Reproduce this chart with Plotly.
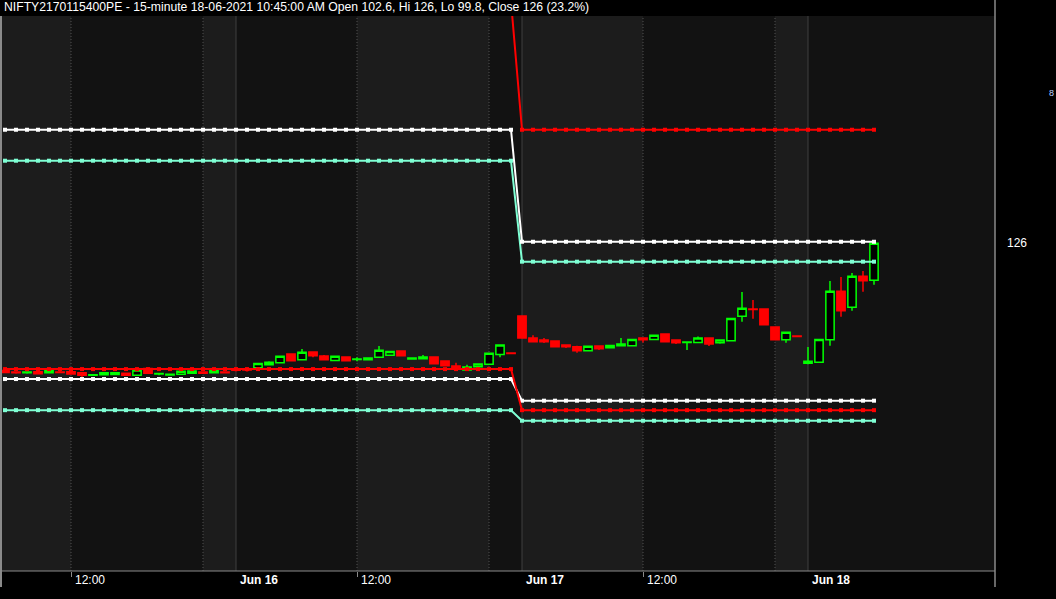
import plotly.graph_objects as go
import pandas as pd

# ---------------- data ----------------
sessions = [("2021-06-15", "10:30", "15:30"),
            ("2021-06-16", "09:15", "15:30"),
            ("2021-06-17", "09:15", "15:30"),
            ("2021-06-18", "09:15", "10:45")]
day_labels = ["Jun 15", "Jun 16", "Jun 17", "Jun 18"]

opens = [45.5, 44.5, 44.1, 44.7, 44.1, 44.6, 44.7, 44.1, 42.5, 42.9, 43.0, 43.7, 42.5, 46.8, 43.3, 42.7, 43.1, 43.7, 44.6, 44.1, 44.6,
         46.0, 46.6, 47.3, 49.2, 50.4, 56.0, 52.3, 57.2, 54.7, 51.9, 54.0, 52.5, 52.3, 53.9, 55.1, 57.8, 52.8, 53.0, 54.0, 51.5, 48.3, 45.8, 47.9, 49.4, 55.7, 56.6,
         80.0, 66.1, 64.8, 64.2, 61.6, 60.6, 58.0, 61.0, 59.9, 61.2, 61.2, 66.1, 65.2, 68.6, 64.8, 63.3, 63.3, 66.1, 63.1, 64.4, 79.8, 84.5, 84.4, 73.0, 65.0, 67.4,
         50.1, 50.7, 65.0, 95.6, 85.5, 105.1, 102.6]
highs = [46.0, 45.0, 45.0, 45.0, 45.8, 45.5, 44.9, 44.3, 43.0, 44.3, 44.2, 43.9, 45.8, 47.0, 43.8, 43.2, 45.0, 45.2, 44.7, 46.5, 44.8,
         46.8, 46.8, 50.0, 51.3, 54.5, 56.0, 59.1, 57.3, 55.3, 54.5, 54.0, 53.9, 53.4, 61.0, 57.6, 57.8, 53.9, 55.3, 54.0, 51.5, 50.4, 49.2, 49.6, 56.4, 61.6, 56.6,
         80.0, 67.9, 66.1, 64.2, 61.6, 61.2, 60.8, 61.0, 61.4, 66.1, 65.2, 66.1, 67.8, 68.6, 64.8, 63.5, 67.0, 66.1, 64.8, 78.5, 95.2, 90.1, 84.4, 73.0, 69.7, 67.4,
         60.4, 65.2, 102.1, 104.7, 107.2, 108.5, 126.0]
lows = [43.8, 43.5, 43.4, 43.2, 44.0, 44.0, 43.1, 41.0, 42.3, 42.8, 42.9, 42.4, 42.4, 43.6, 42.5, 42.6, 43.0, 43.6, 43.5, 44.0, 44.0,
        45.0, 44.8, 47.0, 48.6, 50.3, 51.7, 52.2, 53.9, 52.3, 51.8, 51.7, 51.3, 52.3, 53.9, 55.1, 54.9, 52.3, 53.0, 49.8, 48.5, 46.4, 45.8, 46.6, 49.4, 53.9, 56.2,
        66.1, 63.7, 62.9, 60.6, 59.8, 56.8, 58.0, 58.5, 59.9, 61.2, 61.2, 63.3, 65.2, 63.7, 62.3, 58.5, 63.3, 61.0, 62.5, 64.4, 76.4, 78.3, 74.5, 65.0, 63.1, 67.1,
        49.4, 50.7, 61.2, 79.5, 83.3, 95.4, 99.8]
closes = [44.2, 44.1, 44.6, 43.4, 45.4, 44.2, 43.3, 42.5, 42.9, 44.1, 44.1, 42.5, 45.8, 43.7, 43.6, 43.1, 45.0, 45.2, 43.7, 45.4, 44.1,
          45.6, 45.8, 50.0, 50.7, 54.5, 51.7, 57.0, 54.9, 52.3, 54.5, 51.7, 52.8, 53.4, 58.3, 57.6, 54.9, 53.4, 54.0, 49.8, 48.5, 46.4, 47.7, 49.6, 56.4, 61.6, 56.2,
          66.1, 63.7, 63.7, 60.6, 60.6, 58.0, 60.8, 59.3, 61.4, 62.3, 65.2, 65.0, 67.8, 63.7, 63.1, 63.5, 66.1, 62.3, 64.8, 78.5, 84.9, 84.2, 74.5, 65.0, 69.7, 67.1,
          51.3, 65.2, 95.6, 83.3, 105.1, 102.3, 126.0]

# daily levels (one value per session day)
red_hi = [279.0, 279.0, 197.9, 197.9]
white_hi = [197.9, 197.9, 127.0, 127.0]
cyan_hi = [178.3, 178.3, 114.4, 114.4]
red_lo = [46.4, 46.4, 20.4, 20.4]
white_lo = [40.1, 40.1, 26.4, 26.4]
cyan_lo = [20.4, 20.4, 13.7, 13.7]

title_text = ("NIFTY2170115400PE - 15-minute 18-06-2021 10:45:00 AM Open 102.6, "
              "Hi 126, Lo 99.8, Close 126 (23.2%)")
last_label = "126"

# ---------------- build ----------------
times, day_of_bar = [], []
for k, (d, s, e) in enumerate(sessions):
    rng = pd.date_range(f"{d} {s}", f"{d} {e}", freq="15min")
    times += list(rng)
    day_of_bar += [k] * len(rng)
idx = list(range(len(times)))

def per_bar(levels):
    return [levels[k] for k in day_of_bar]

BG_DARK = "#121212"
BG_LIGHT = "#1c1c1c"
FONT = "Liberation Sans, Arial"

fig = go.Figure()

fig.add_trace(go.Candlestick(
    x=idx, open=opens, high=highs, low=lows, close=closes,
    increasing=dict(line=dict(color="#00ff00", width=1.5), fillcolor="#000000"),
    decreasing=dict(line=dict(color="#ff0000", width=1.5), fillcolor="#ff0000"),
    whiskerwidth=0, showlegend=False, hoverinfo="skip"))

for vals, col in [(cyan_hi, "#7fffd4"), (white_hi, "#ffffff"), (red_hi, "#ff0000"),
                  (cyan_lo, "#7fffd4"), (white_lo, "#ffffff"), (red_lo, "#ff0000")]:
    fig.add_trace(go.Scatter(
        x=idx, y=per_bar(vals), mode="lines+markers",
        line=dict(color=col, width=2),
        marker=dict(symbol="square", size=4, color=col, line=dict(width=0)),
        showlegend=False, hoverinfo="skip"))

# grid boundaries
noon_idx, three_idx, day_idx = [], [], []
for i, t in enumerate(times):
    if t.strftime("%H:%M") == "12:00":
        noon_idx.append(i)
    if t.strftime("%H:%M") == "15:00":
        three_idx.append(i)
    if i > 0 and day_of_bar[i] != day_of_bar[i - 1]:
        day_idx.append(i)

X0 = -4 / 11.0
X1 = 90.0
bounds = sorted(noon_idx + three_idx + day_idx)
edges = [X0] + bounds + [X1]
shapes = []
for j in range(len(edges) - 1):
    if j % 2 == 0:
        shapes.append(dict(type="rect", xref="x", yref="paper", x0=edges[j], x1=edges[j + 1],
                           y0=0, y1=1, fillcolor=BG_LIGHT, line=dict(width=0), layer="below"))
for i in noon_idx + three_idx:
    shapes.append(dict(type="line", xref="x", yref="paper", x0=i, x1=i, y0=0, y1=1,
                       line=dict(color="#505050", width=1, dash="1px,2px"), layer="below"))
for i in day_idx:
    shapes.append(dict(type="line", xref="x", yref="paper", x0=i, x1=i, y0=0, y1=1,
                       line=dict(color="#3e3e3e", width=1), layer="below"))

# frame
FRAME = "#8a8a8a"
H = 599 - 16 - 28
shapes.append(dict(type="line", xref="paper", yref="paper", x0=0, x1=1, y0=0, y1=0,
                   line=dict(color=FRAME, width=1)))
shapes.append(dict(type="line", xref="paper", yref="paper", x0=1, x1=1, y0=-16 / H, y1=1 + 16 / H,
                   line=dict(color=FRAME, width=1.5)))
shapes.append(dict(type="line", xref="paper", yref="paper", x0=0, x1=0, y0=-16 / H, y1=1,
                   line=dict(color=FRAME, width=2)))

annotations = []
for i in noon_idx:
    annotations.append(dict(x=i, y=0, xref="x", yref="paper", text="12:00", showarrow=False,
                            xanchor="left", yanchor="top", xshift=2, yshift=0,
                            font=dict(color="#ffffff", size=12, family=FONT)))
for i in day_idx:
    annotations.append(dict(x=i, y=0, xref="x", yref="paper", text="<b>" + day_labels[day_of_bar[i]] + "</b>",
                            showarrow=False, xanchor="left", yanchor="top", xshift=2, yshift=0,
                            font=dict(color="#ffffff", size=12, family=FONT)))
annotations.append(dict(x=0, y=1, xref="paper", yref="paper", text=title_text, showarrow=False,
                        xanchor="left", yanchor="bottom", xshift=1, yshift=0,
                        font=dict(color="#ffffff", size=12.2, family=FONT)))
annotations.append(dict(x=1, y=closes[-1], xref="paper", yref="y", text=last_label, showarrow=False,
                        xanchor="left", yanchor="middle", xshift=10,
                        font=dict(color="#ffffff", size=12, family=FONT)))
annotations.append(dict(x=1, y=1, xref="paper", yref="paper", text="8", showarrow=False,
                        xanchor="left", yanchor="middle", xshift=52, yshift=-77,
                        font=dict(color="#bcd4ff", size=9, family=FONT)))

fig.update_layout(
    width=1056, height=599,
    margin=dict(l=1, r=61, t=16, b=28, pad=0),
    paper_bgcolor="#000000", plot_bgcolor=BG_DARK,
    boxgap=0.245, boxgroupgap=0,
    hovermode=False,
    xaxis=dict(range=[X0, X1], showgrid=False, zeroline=False, showline=False,
               rangeslider=dict(visible=False), tickmode="array", tickvals=noon_idx,
               ticks="outside", ticklen=5, tickcolor=FRAME, tickwidth=1, showticklabels=False),
    yaxis=dict(range=[-81.4, 269.9], showgrid=False, zeroline=False, showline=False,
               showticklabels=False, ticks=""),
    shapes=shapes, annotations=annotations,
)

fig.write_html("out.html", config={"displayModeBar": False},
               post_script="document.body.style.margin='0';document.body.style.padding='0';"
                           "document.body.style.background='#000';")
